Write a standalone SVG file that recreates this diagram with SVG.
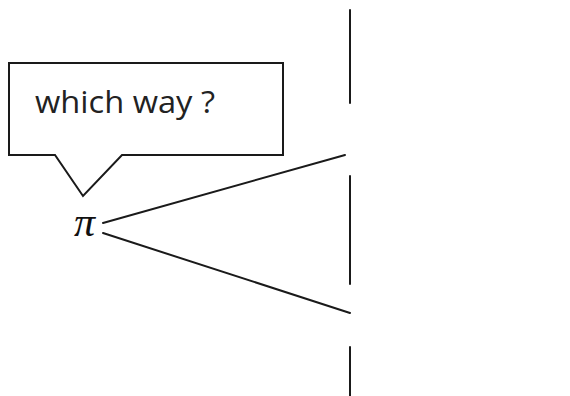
<svg xmlns="http://www.w3.org/2000/svg" width="570" height="396" viewBox="0 0 570 396">
  <style>
    .stroke { fill: none; stroke: #1a1a1a; stroke-width: 2; stroke-linecap: round; stroke-linejoin: miter; }
    .label { font-family: "Open Sans", "Liberation Sans", sans-serif; font-size: 31px; fill: #222; }
    .sym { font-family: "Liberation Serif", serif; font-style: italic; font-size: 42px; fill: #111; }
  </style>
  <rect width="570" height="396" fill="#fff"/>
  <!-- speech bubble -->
  <g id="bubble">
    <path class="stroke" d="M9,63 H283 V155 H122 L83,196 L55,155 H9 Z"/>
    <text class="label" x="35" y="113" textLength="180" lengthAdjust="spacingAndGlyphs">which way ?</text>
  </g>
  <!-- source -->
  <g id="source">
    <text class="sym" x="74" y="236">π</text>
  </g>
  <!-- screen with two slits -->
  <g id="screen">
    <line class="stroke" x1="350" y1="10" x2="350" y2="103"/>
    <line class="stroke" x1="350" y1="176" x2="350" y2="284"/>
    <line class="stroke" x1="350" y1="347" x2="350" y2="396"/>
  </g>
  <!-- paths through the slits -->
  <g id="connectors">
    <line class="stroke" x1="103" y1="223" x2="345" y2="155"/>
    <line class="stroke" x1="103" y1="233" x2="350" y2="313"/>
  </g>
</svg>
